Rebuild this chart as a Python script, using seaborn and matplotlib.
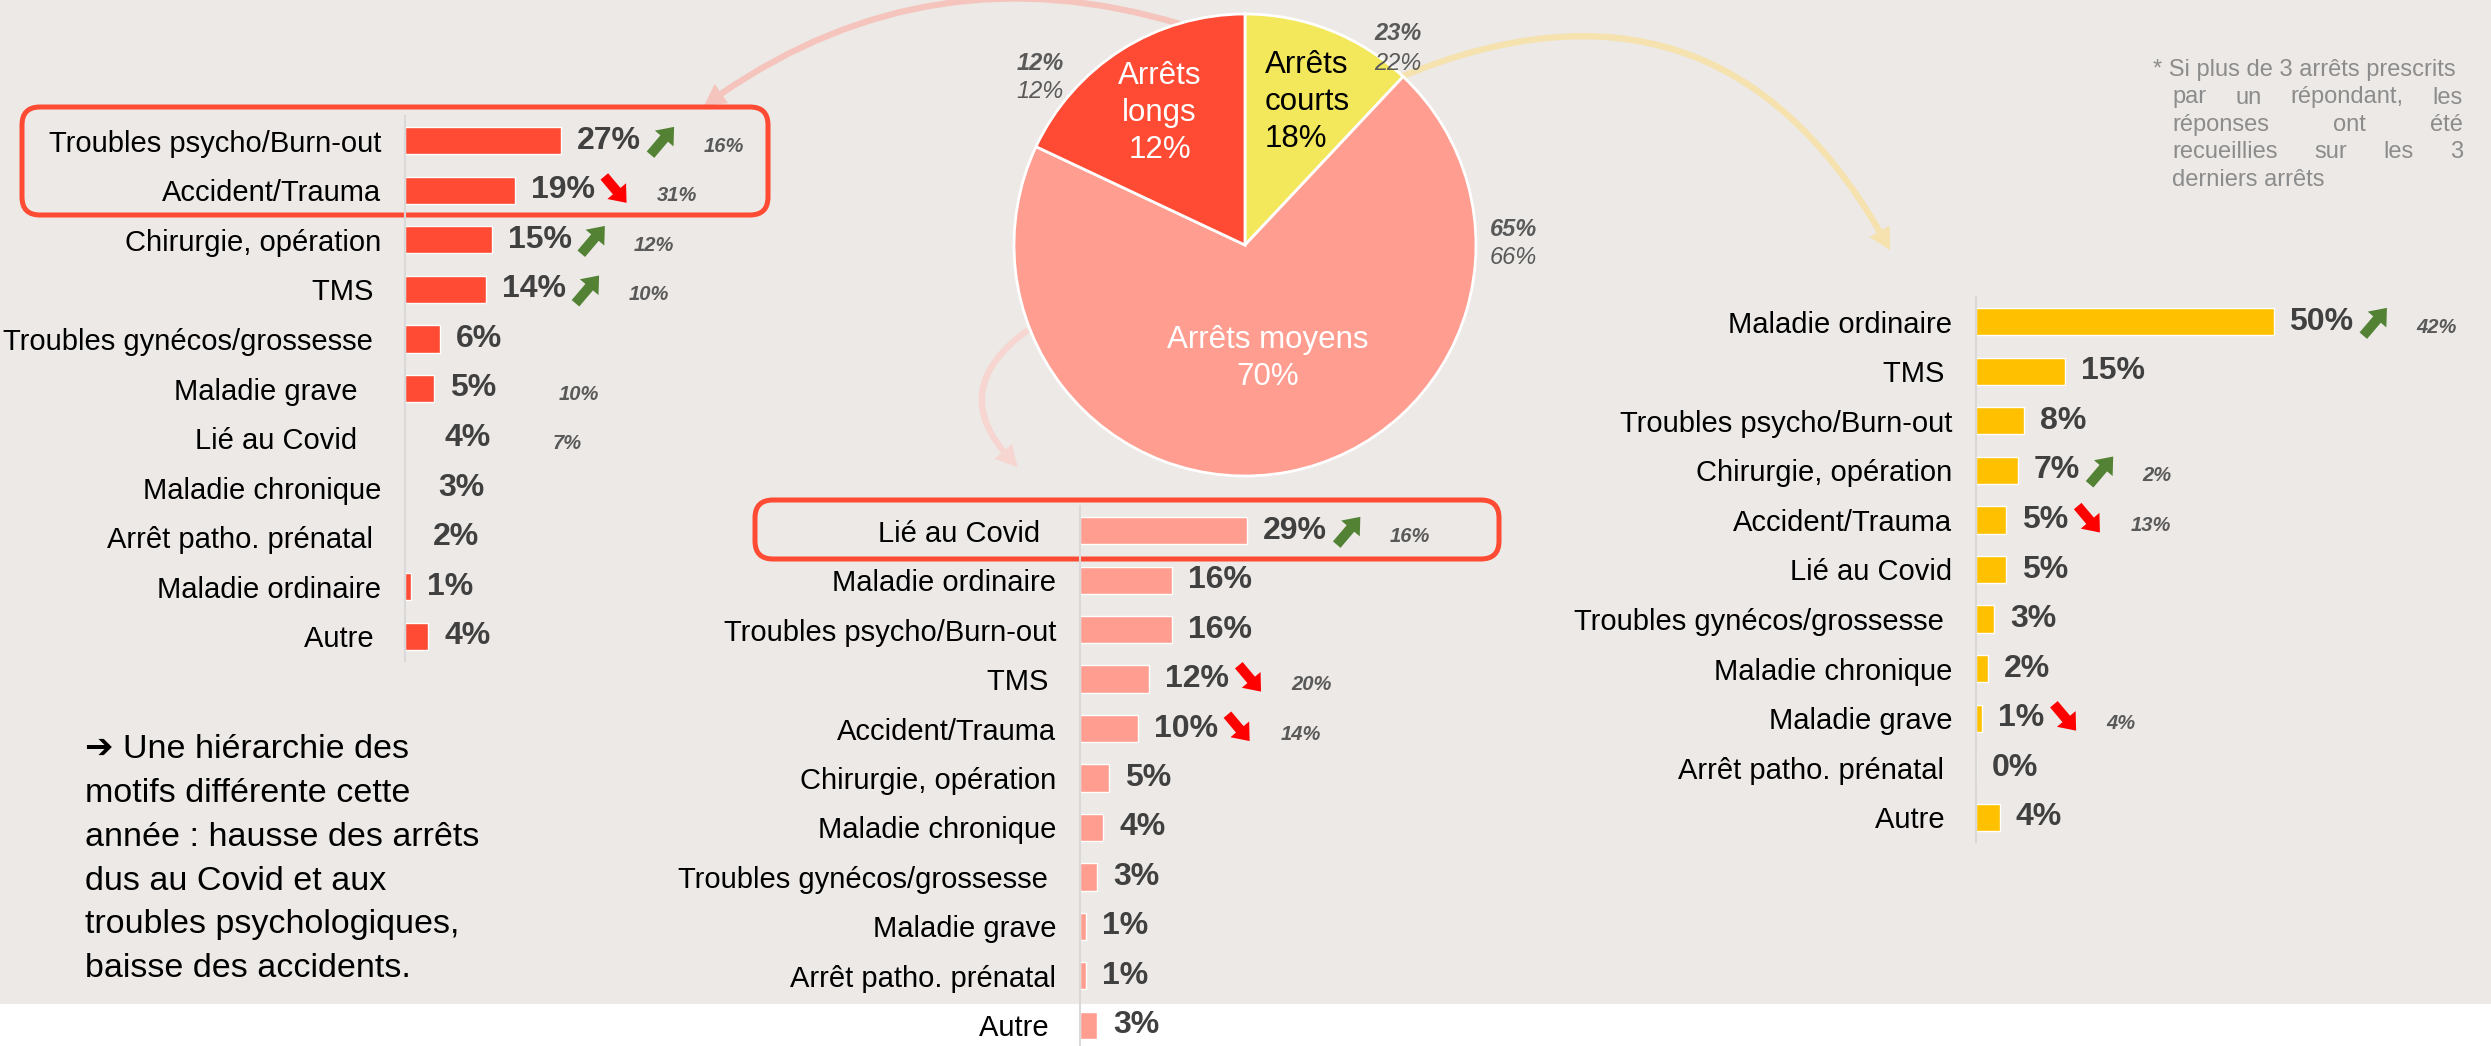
import numpy as np
import pandas as pd
import matplotlib
matplotlib.use("Agg")
import matplotlib.pyplot as plt
import seaborn as sns
from matplotlib.patches import FancyBboxPatch, FancyArrowPatch, Rectangle
from matplotlib.text import OffsetFrom

# ---------------------------------------------------------------- data
pie_labels = ["Arrêts\ncourts\n18%", "Arrêts moyens\n70%", "Arrêts\nlongs\n12%"]
pie_sizes = [12, 70, 18]            # wedge sizes as drawn in the picture
pie_bold = ["23%", "65%", "12%"]     # earlier years, shown next to the pie
pie_light = ["22%", "66%", "12%"]

long_cats = ["Troubles psycho/Burn-out", "Accident/Trauma", "Chirurgie, opération",
             "TMS ", "Troubles gynécos/grossesse ", "Maladie grave   ",
             "Lié au Covid   ", "Maladie chronique", "Arrêt patho. prénatal ",
             "Maladie ordinaire", "Autre "]
long_vals = [27, 19, 15, 14, 6, 5, 4, 3, 2, 1, 4]
long_drawn = [True, True, True, True, True, True, False, False, False, True, True]
long_trend = ["up", "down", "up", "up", "", "", "", "", "", "", ""]
long_prev = ["16%", "31%", "12%", "10%", "", "10%", "7%", "", "", "", ""]

mid_cats = ["Lié au Covid  ", "Maladie ordinaire", "Troubles psycho/Burn-out", "TMS ",
            "Accident/Trauma", "Chirurgie, opération", "Maladie chronique",
            "Troubles gynécos/grossesse ", "Maladie grave", "Arrêt patho. prénatal",
            "Autre "]
mid_vals = [29, 16, 16, 12, 10, 5, 4, 3, 1, 1, 3]
mid_drawn = [True] * 11
mid_trend = ["up", "", "", "down", "down", "", "", "", "", "", ""]
mid_prev = ["16%", "", "", "20%", "14%", "", "", "", "", "", ""]

short_cats = ["Maladie ordinaire", "TMS ", "Troubles psycho/Burn-out", "Chirurgie, opération",
              "Accident/Trauma", "Lié au Covid", "Troubles gynécos/grossesse ",
              "Maladie chronique", "Maladie grave", "Arrêt patho. prénatal ", "Autre "]
short_vals = [50, 15, 8, 7, 5, 5, 3, 2, 1, 0, 4]
short_drawn = [True] * 11
short_trend = ["up", "", "", "up", "down", "", "", "", "down", "", ""]
short_prev = ["42%", "", "", "2%", "13%", "", "", "", "4%", "", ""]

summary_lines = ["➔ Une hiérarchie des", "motifs différente cette",
                 "année : hausse des arrêts", "dus au Covid et aux",
                 "troubles psychologiques,", "baisse des accidents."]
note_lines = [["* Si plus de 3 arrêts prescrits"], ["par", "un", "répondant,", "les"],
              ["réponses", "ont", "été"], ["recueillies", "sur", "les", "3"],
              ["derniers arrêts"]]

# ---------------------------------------------------------------- style
BG = "#ECE9E6"
RED, PINK, YELLOW, GOLD = "#FF4B33", "#FF9E90", "#F3E85C", "#FFC000"
VAL, PREV, NOTE = "#404040", "#595959", "#8C8C8C"
# tail / tip offsets (points, from the right edge of the value label) and colour
TREND = {"up": ((7, -10), (24, 10), "#548235"),
         "down": ((7, 10), (23, -9), "#FF0000")}

sns.set_theme(style="white")
plt.rcParams["font.family"] = ["Liberation Sans", "DejaVu Sans"]

W, H = 2491, 1046
fig = plt.figure(figsize=(W / 100, H / 100), dpi=100)
fig.patch.set_facecolor(BG)


def rect(x0, y0, x1, y1):
    return [x0 / W, 1 - y1 / H, (x1 - x0) / W, (y1 - y0) / H]


def overlay(z):
    a = fig.add_axes([0, 0, 1, 1])
    a.set_xlim(0, W)
    a.set_ylim(H, 0)
    a.axis("off")
    a.set_zorder(z)
    return a


# overlays in pixel coordinates: one under the charts, one above
ov = overlay(0)
top = overlay(3)
ov.add_patch(Rectangle((0, 1004), W, 60, color="white", lw=0))


def bar_panel(box, cats, vals, drawn, trends, prevs, color, xmax):
    ax = fig.add_axes(rect(*box))
    ax.set_zorder(2)
    ax.patch.set_alpha(0)
    df = pd.DataFrame({"motif": cats, "part": vals})
    sns.barplot(data=df, x="part", y="motif", orient="y", color=color,
                saturation=1, width=0.55, errorbar=None, ax=ax)
    for patch, show in zip(ax.patches, drawn):
        patch.set_visible(show)
    ax.set_xlim(0, xmax)
    ax.set_ylim(len(cats) - 0.5, -0.5)
    ax.set_xlabel("")
    ax.set_ylabel("")
    ax.set_xticks([])
    for s in ["top", "right", "bottom"]:
        ax.spines[s].set_visible(False)
    ax.spines["left"].set_color("#D9D9D9")
    ax.spines["left"].set_linewidth(1.5)
    ax.set_yticks(np.arange(len(cats) + 1) - 0.5, minor=True)
    ax.tick_params(axis="y", which="major", length=0, pad=17, labelsize=21,
                   labelcolor="black")
    ax.tick_params(axis="y", which="minor", length=5, width=1.5, color="#D9D9D9")
    for i, (v, tr, pv) in enumerate(zip(vals, trends, prevs)):
        lab = ax.annotate(f"{v}%", xy=(v, i), xytext=(11.5, 0),
                          textcoords="offset points", ha="left", va="center",
                          fontsize=23, fontweight="bold", color=VAL)
        ref = OffsetFrom(lab, (1, 0.5), unit="points")
        if tr:
            tail, tip, c = TREND[tr]
            ax.annotate("", xy=tip, xycoords=ref, xytext=tail, textcoords=ref,
                        arrowprops=dict(arrowstyle="simple,head_length=1.0,"
                                        "head_width=1.6,tail_width=0.65",
                                        mutation_scale=11, color=c, lw=0,
                                        shrinkA=0, shrinkB=0))
        if pv:
            ax.annotate(pv, xy=(45, -4), xycoords=ref, ha="left", va="center",
                        fontsize=14.5, fontstyle="italic", fontweight="bold",
                        color=PREV)
    return ax


bar_panel((405, 116, 405 + 60 * 5.77, 661), long_cats, long_vals, long_drawn,
          long_trend, long_prev, RED, 60)
bar_panel((1080, 506, 1080 + 60 * 5.76, 1050), mid_cats, mid_vals, mid_drawn,
          mid_trend, mid_prev, PINK, 60)
bar_panel((1976, 297, 1976 + 80 * 5.95, 842), short_cats, short_vals, short_drawn,
          short_trend, short_prev, GOLD, 80)

# ---------------------------------------------------------------- pie
pax = fig.add_axes(rect(1014, 14, 1476, 476))
pax.set_zorder(1)
pax.pie(pie_sizes, colors=[YELLOW, PINK, RED], startangle=90, counterclock=False,
        radius=1, wedgeprops=dict(edgecolor="white", linewidth=2))
pax.set_xlim(-1, 1)
pax.set_ylim(-1, 1)
pax.set_aspect("equal")
pax.axis("off")
pie_pos = [(0.085, 0.62, "left", "black"), (0.10, -0.49, "center", "white"),
           (-0.37, 0.57, "center", "white")]
for lab, (x, y, ha, c) in zip(pie_labels, pie_pos):
    pax.text(x, y, lab, ha=ha, va="center", fontsize=22.5, color=c, linespacing=1.3)

ref_pos = [(1398, 33, 63, "center"), (1490, 230, 258, "left"), (1040, 63, 92, "center")]
for b, l, (x, yb, yl, ha) in zip(pie_bold, pie_light, ref_pos):
    top.text(x, yb, b, ha=ha, va="center", fontsize=17, fontstyle="italic",
             fontweight="bold", color=PREV)
    top.text(x, yl, l, ha=ha, va="center", fontsize=17, fontstyle="italic", color=PREV)

# ---------------------------------------------------------------- curved arrows
arrow_kw = dict(arrowstyle="simple,head_length=1.1,head_width=1.2,tail_width=0.32",
                mutation_scale=14, shrinkA=0, shrinkB=0, lw=0)
ov.add_patch(FancyArrowPatch((1180, 24), (704, 106), connectionstyle="arc3,rad=0.25",
                             color="#F5C4BC", **arrow_kw))
ov.add_patch(FancyArrowPatch((1403, 76), (1890, 250), connectionstyle="arc3,rad=-0.45",
                             color="#F5E2AE", **arrow_kw))
ov.add_patch(FancyArrowPatch((1028, 330), (1018, 467), connectionstyle="arc3,rad=0.6",
                             color="#F7D6D1", **arrow_kw))

# highlight boxes
for (x0, y0, x1, y1) in [(22, 107, 768, 215), (755, 500, 1499, 559)]:
    ov.add_patch(FancyBboxPatch((x0, y0), x1 - x0, y1 - y0,
                                boxstyle="round,pad=0,rounding_size=18",
                                fc="none", ec=RED, lw=3.6))

# ---------------------------------------------------------------- free text
for i, line in enumerate(summary_lines):
    ov.text(85, 750 + 43.7 * i, line, ha="left", va="center", fontsize=24.5,
            color="black")

renderer = fig.canvas.get_renderer()
for i, words in enumerate(note_lines):
    y = 70 + 27.5 * i
    if len(words) == 1:
        x0 = 2153 if i == 0 else 2172
        ov.text(x0, y, words[0], ha="left", va="center", fontsize=17, color=NOTE)
        continue
    texts = [ov.text(0, y, w, ha="left", va="center", fontsize=17, color=NOTE)
             for w in words]
    widths = [t.get_window_extent(renderer).width for t in texts]
    gap = (2463 - 2172 - sum(widths)) / (len(words) - 1)
    x = 2172
    for t, w in zip(texts, widths):
        t.set_x(x)
        x += w + gap

fig.savefig("out.png", dpi=100, facecolor=fig.get_facecolor())
